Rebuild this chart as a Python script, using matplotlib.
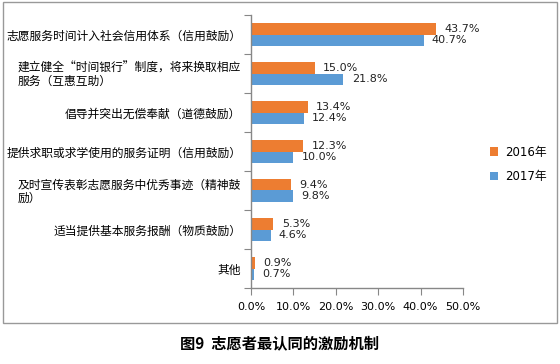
import matplotlib.pyplot as plt
import numpy as np
from matplotlib.patches import Rectangle

categories = ["志愿服务时间计入社会信用体系（信用鼓励）",
              "建立健全“时间银行”制度，将来换取相应\n服务（互惠互助）",
              "倡导并突出无偿奉献（道德鼓励）",
              "提供求职或求学使用的服务证明（信用鼓励）",
              "及时宣传表彰志愿服务中优秀事迹（精神鼓\n励）",
              "适当提供基本服务报酬（物质鼓励）",
              "其他"]
v2016 = [43.7, 15.0, 13.4, 12.3, 9.4, 5.3, 0.9]
v2017 = [40.7, 21.8, 12.4, 10.0, 9.8, 4.6, 0.7]
xticks = [0, 10, 20, 30, 40, 50]

cjk = ['Noto Sans CJK SC', 'DejaVu Sans']
num = ['DejaVu Sans', 'Noto Sans CJK SC']
orange = '#ED7D31'
blue = '#5B9BD5'
grey = '#878787'

fig = plt.figure(figsize=(5.6, 3.64), dpi=100)
ax = fig.add_axes([251/560, 1-288/364, (463-251)/560, (288-15)/364])

y = np.arange(len(categories))
h = 0.29
ax.barh(y - h/2, v2016, height=h, color=orange, label='2016年')
ax.barh(y + h/2, v2017, height=h, color=blue, label='2017年')

for yi, a, b in zip(y, v2016, v2017):
    ax.annotate(f'{a:.1f}%', (a, yi - h/2), xytext=(6, 0), textcoords='offset points',
                va='center', ha='left', fontsize=8, family=num, color='#222222')
    ax.annotate(f'{b:.1f}%', (b, yi + h/2), xytext=(6, 0), textcoords='offset points',
                va='center', ha='left', fontsize=8, family=num, color='#222222')

ax.set_ylim(len(categories) - 0.5, -0.5)
ax.set_xlim(0, 50)
ax.set_xticks(xticks)
ax.set_xticklabels([f'{t:.1f}%' for t in xticks], family=num, fontsize=8)
ax.set_yticks(np.arange(len(categories) + 1) - 0.5, minor=False)
ax.set_yticklabels([])
ax.set_yticks(y, minor=True)
ax.set_yticklabels(categories, minor=True, family=cjk, fontsize=8.5,
                   multialignment='left', linespacing=0.97)
ax.tick_params(axis='y', which='minor', length=0, pad=7)
ax.tick_params(axis='y', which='major', length=5, color=grey)
ax.tick_params(axis='x', length=5, color=grey, pad=5)

for s in ['top', 'right']:
    ax.spines[s].set_visible(False)
for s in ['left', 'bottom']:
    ax.spines[s].set_color(grey)
    ax.spines[s].set_linewidth(1)

leg = fig.legend(loc='upper left', bbox_to_anchor=(479/560, 1-135/364), frameon=False,
                 prop={'family': num, 'size': 8.5}, handlelength=0.7, handleheight=0.7,
                 labelspacing=1.0, handletextpad=0.6)

fig.patches.append(Rectangle((3/560, 1-323/364), 554/560, 321/364, transform=fig.transFigure,
                             fill=False, edgecolor='#999999', linewidth=1))

fig.text(0.5, 1-343/364, '图9  志愿者最认同的激励机制', ha='center', va='center',
         fontsize=11, fontweight='bold', family=cjk)

fig.savefig('out.png', dpi=100)
